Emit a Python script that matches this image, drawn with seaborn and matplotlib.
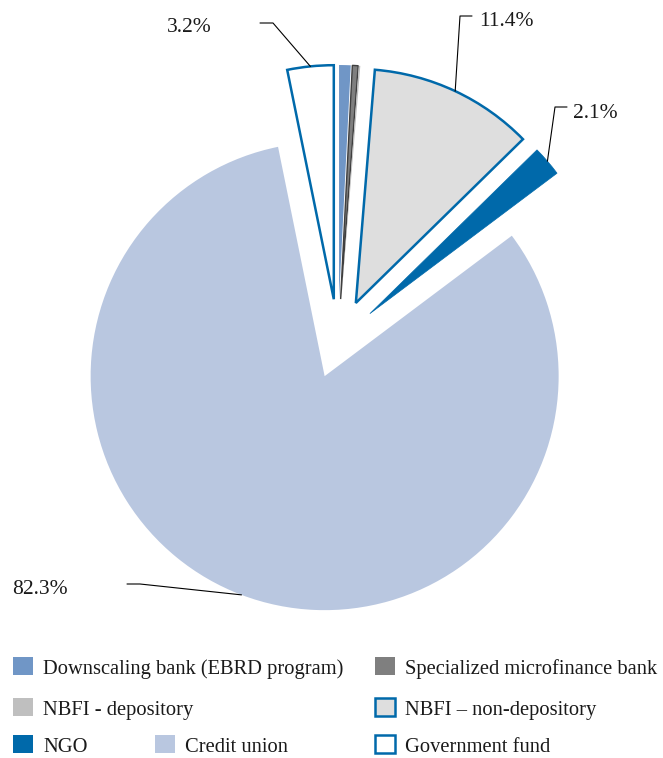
import numpy as np
import matplotlib.pyplot as plt
import matplotlib.patches as mpatches
import seaborn as sns

# Share of microfinance institutions by type (%)
categories = ['Downscaling bank (EBRD program)', 'Specialized microfinance bank',
              'NBFI - depository', 'NBFI – non-depository', 'NGO',
              'Credit union', 'Government fund']
shares = [0.8, 0.4, 0.1, 11.4, 2.1, 82.3, 3.2]
pct_labels = ['', '', '', '11.4%', '2.1%', '82.3%', '3.2%']

sns.set_theme(style='white')
plt.rcParams['font.family'] = ['Liberation Serif', 'DejaVu Serif']

fills = ['#7096c6', '#7f7f7f', '#bfbfbf', '#dedede', '#0069aa', '#b9c7e0', '#ffffff']
edges = ['#7096c6', '#3f3f3f', '#bfbfbf', '#0069aa', '#0069aa', '#b9c7e0', '#0069aa']
lws = [0, 1.0, 0, 1.8, 0.5, 0, 1.8]
explode = [42, 42, 42, 42, 42, 37.6, 42]

W, H = 663, 758
fig = plt.figure(figsize=(W / 100, H / 100), dpi=100)
ax = fig.add_axes([0, 0, 1, 1])
wedges, _ = ax.pie(shares, colors=fills, explode=explode, radius=234,
                   center=(338, H - 341), startangle=90, counterclock=False)
for w, ec, lw in zip(wedges, edges, lws):
    w.set_edgecolor(ec)
    w.set_linewidth(lw)
    w.set_joinstyle('miter')
ax.set_xlim(0, W)
ax.set_ylim(0, H)
ax.set_aspect('equal')
ax.axis('off')

# leader lines: (elbow start, elbow end, text pos, alignment) in top-down px
leaders = {
    '11.4%': ((460, 16), (472, 16), (479, 22), 'left'),
    '2.1%': ((555, 107), (567, 107), (573, 113), 'left'),
    '82.3%': ((140, 584), (127, 584), (12, 590), 'left'),
    '3.2%': ((273, 23), (260, 23), (212, 28), 'right'),
}
for w, lab in zip(wedges, pct_labels):
    if not lab:
        continue
    tm = np.deg2rad((w.theta1 + w.theta2) / 2)
    px = w.center[0] + w.r * np.cos(tm)
    py = w.center[1] + w.r * np.sin(tm)
    e1, e2, tp, ha = leaders[lab]
    ax.plot([px, e1[0], e2[0]], [py, H - e1[1], H - e2[1]], color='black', lw=0.8)
    ax.text(tp[0], H - tp[1], lab, ha=ha, va='center', fontsize=15.5, color='#1a1a1a')

# legend laid out like the original (three rows)
legend_pos = [(13, 668), (375, 668), (13, 709), (375, 709), (13, 746), (155, 746), (375, 746)]
for name, fc, ec, lw, (lx, ly) in zip(categories, fills, edges, lws, legend_pos):
    if ec == '#0069aa' and fc != '#0069aa':
        h = mpatches.Patch(facecolor=fc, edgecolor=ec, linewidth=1.8)
    else:
        h = mpatches.Patch(facecolor=fc, edgecolor='none')
    fig.legend(handles=[h], labels=[name], loc='center left',
               bbox_to_anchor=(lx / W, 1 - ly / H), frameon=False,
               borderpad=0, borderaxespad=0, handlelength=0.97, handleheight=0.97,
               handletextpad=0.5, fontsize=14.8, labelcolor='#1a1a1a')

fig.savefig('out.png', dpi=100)
